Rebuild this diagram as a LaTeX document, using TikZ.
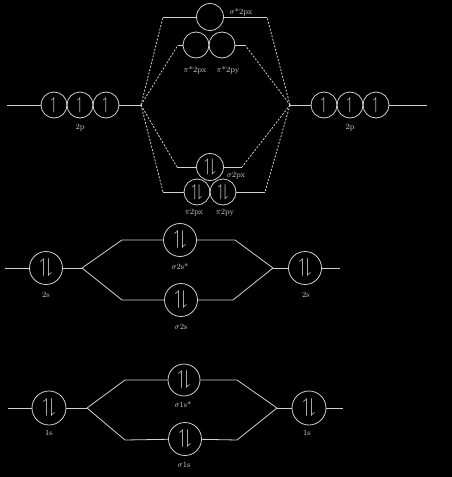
\documentclass[tikz,border=0pt]{standalone}
\usepackage{amssymb}
\definecolor{lc}{gray}{0.82}
\newcommand\pairE[1]{\fontsize{#1}{#1}\selectfont$\upharpoonleft\!\downharpoonright$}
\newcommand\oneE[1]{\fontsize{#1}{#1}\selectfont$\upharpoonleft$}
\begin{document}
\begin{tikzpicture}[x=1pt,y=-1pt,
  ln/.style={draw=lc,line width=0.8pt},
  dl/.style={ln,dash pattern=on 2pt off 1.5pt},
  orb/.style={circle,draw=lc,line width=0.8pt,minimum size=#1,inner sep=0pt,text=lc},
  lab/.style={text=lc,font=\fontsize{8}{9}\selectfont,inner sep=0pt}]
\fill[black] (0,0) rectangle (452,477);
\useasboundingbox (0,0) rectangle (452,477);
% ---------- 2p level ----------
\node[orb=26] (pL1) at (54,105) {\oneE{17}};
\node[orb=26] (pL2) at (80,105) {\oneE{17}};
\node[orb=26] (pL3) at (106,105) {\oneE{17}};
\node[orb=26] (pR1) at (324,105) {\oneE{17}};
\node[orb=26] (pR2) at (350,105) {\oneE{17}};
\node[orb=26] (pR3) at (376,105) {\oneE{17}};
\node[lab] (l2pL) at (80,128) {2p};
\node[lab] (l2pR) at (350,128) {2p};
\coordinate (tL2p) at (7,105);
\coordinate (jL2p) at (141,105);
\coordinate (jR2p) at (290,105);
\coordinate (tR2p) at (427,105);
\draw[ln] (tL2p) -- (pL1);
\draw[ln] (pL3) -- (jL2p);
\draw[ln] (jR2p) -- (pR1);
\draw[ln] (pR3) -- (tR2p);
% sigma*2px
\node[orb=27] (sx2s) at (210,17) {};
\node[lab] (lsx2s) at (241,12) {$\sigma$*2px};
\coordinate (a1) at (163,17);
\coordinate (b1) at (267,17);
\draw[ln] (a1) -- (sx2s);
\draw[ln] (sx2s) -- (b1);
% pi*2px, pi*2py
\node[orb=26] (pxs) at (196,45) {};
\node[orb=26] (pys) at (222,45) {};
\node[lab] (lpxs) at (195,70) {$\pi$*2px};
\node[lab] (lpys) at (228,70) {$\pi$*2py};
\coordinate (a2) at (178,45);
\coordinate (b2) at (245,45);
\draw[ln] (a2) -- (pxs);
\draw[ln] (pys) -- (b2);
% sigma2px
\node[orb=27] (sx) at (210,167) {\pairE{18}};
\node[lab] (lsx) at (236,176) {$\sigma$2px};
\coordinate (a3) at (177,167);
\coordinate (b3) at (242,167);
\draw[ln] (a3) -- (sx);
\draw[ln] (sx) -- (b3);
% pi2px, pi2py
\node[orb=26] (px) at (197,192) {\pairE{17}};
\node[orb=26] (py) at (223,192) {\pairE{17}};
\node[lab] (lpx) at (194,213) {$\pi$2px};
\node[lab] (lpy) at (225,213) {$\pi$2py};
\coordinate (a4) at (163,192);
\coordinate (b4) at (265,192);
\draw[ln] (a4) -- (px);
\draw[ln] (py) -- (b4);
% dashed correlation lines
\draw[dl] (jL2p) -- (a1);
\draw[dl] (jL2p) -- (a2);
\draw[dl] (jL2p) -- (a3);
\draw[dl] (jL2p) -- (a4);
\draw[dl] (jR2p) -- (b1);
\draw[dl] (jR2p) -- (b2);
\draw[dl] (jR2p) -- (b3);
\draw[dl] (jR2p) -- (b4);
% ---------- 2s level ----------
\node[orb=33] (sL2) at (46,268) {\pairE{20}};
\node[orb=33] (sR2) at (305,268) {\pairE{20}};
\node[orb=33] (ss2) at (180,240) {\pairE{20}};
\node[orb=33] (sb2) at (181,300) {\pairE{20}};
\node[lab] (lsL2) at (46,295) {2s};
\node[lab] (lsR2) at (306,295) {2s};
\node[lab] (lss2) at (180,267) {$\sigma$2s*};
\node[lab] (lsb2) at (181,327) {$\sigma$2s};
\coordinate (tL2s) at (5,268);
\coordinate (jL2s) at (82,268);
\coordinate (jR2s) at (273,268);
\coordinate (tR2s) at (340,268);
\coordinate (c1) at (122,240);
\coordinate (c2) at (235,240);
\coordinate (c3) at (122,300);
\coordinate (c4) at (233,300);
\draw[ln] (tL2s) -- (sL2);
\draw[ln] (sL2) -- (jL2s);
\draw[ln] (jL2s) -- (c1) -- (ss2);
\draw[ln] (ss2) -- (c2) -- (jR2s);
\draw[ln] (jL2s) -- (c3) -- (sb2);
\draw[ln] (sb2) -- (c4) -- (jR2s);
\draw[ln] (jR2s) -- (sR2);
\draw[ln] (sR2) -- (tR2s);
% ---------- 1s level ----------
\node[orb=34] (sL1) at (49,408) {\pairE{20}};
\node[orb=34] (sR1) at (309,408) {\pairE{20}};
\node[orb=32] (ss1) at (184,380) {\pairE{20}};
\node[orb=33] (sb1) at (185,439) {\pairE{20}};
\node[lab] (lsL1) at (49,433) {1s};
\node[lab] (lsR1) at (307,433) {1s};
\node[lab] (lss1) at (183,405) {$\sigma$1s*};
\node[lab] (lsb1) at (184,465) {$\sigma$1s};
\coordinate (tL1s) at (8,408);
\coordinate (jL1s) at (87,408);
\coordinate (jR1s) at (277,408);
\coordinate (tR1s) at (343,408);
\coordinate (d1) at (125,380);
\coordinate (d2) at (237,380);
\coordinate (d3) at (125,440);
\coordinate (d4) at (237,440);
\draw[ln] (tL1s) -- (sL1);
\draw[ln] (sL1) -- (jL1s);
\draw[ln] (jL1s) -- (d1) -- (ss1);
\draw[ln] (ss1) -- (d2) -- (jR1s);
\draw[ln] (jL1s) -- (d3) -- (sb1);
\draw[ln] (sb1) -- (d4) -- (jR1s);
\draw[ln] (jR1s) -- (sR1);
\draw[ln] (sR1) -- (tR1s);
\end{tikzpicture}
\end{document}
